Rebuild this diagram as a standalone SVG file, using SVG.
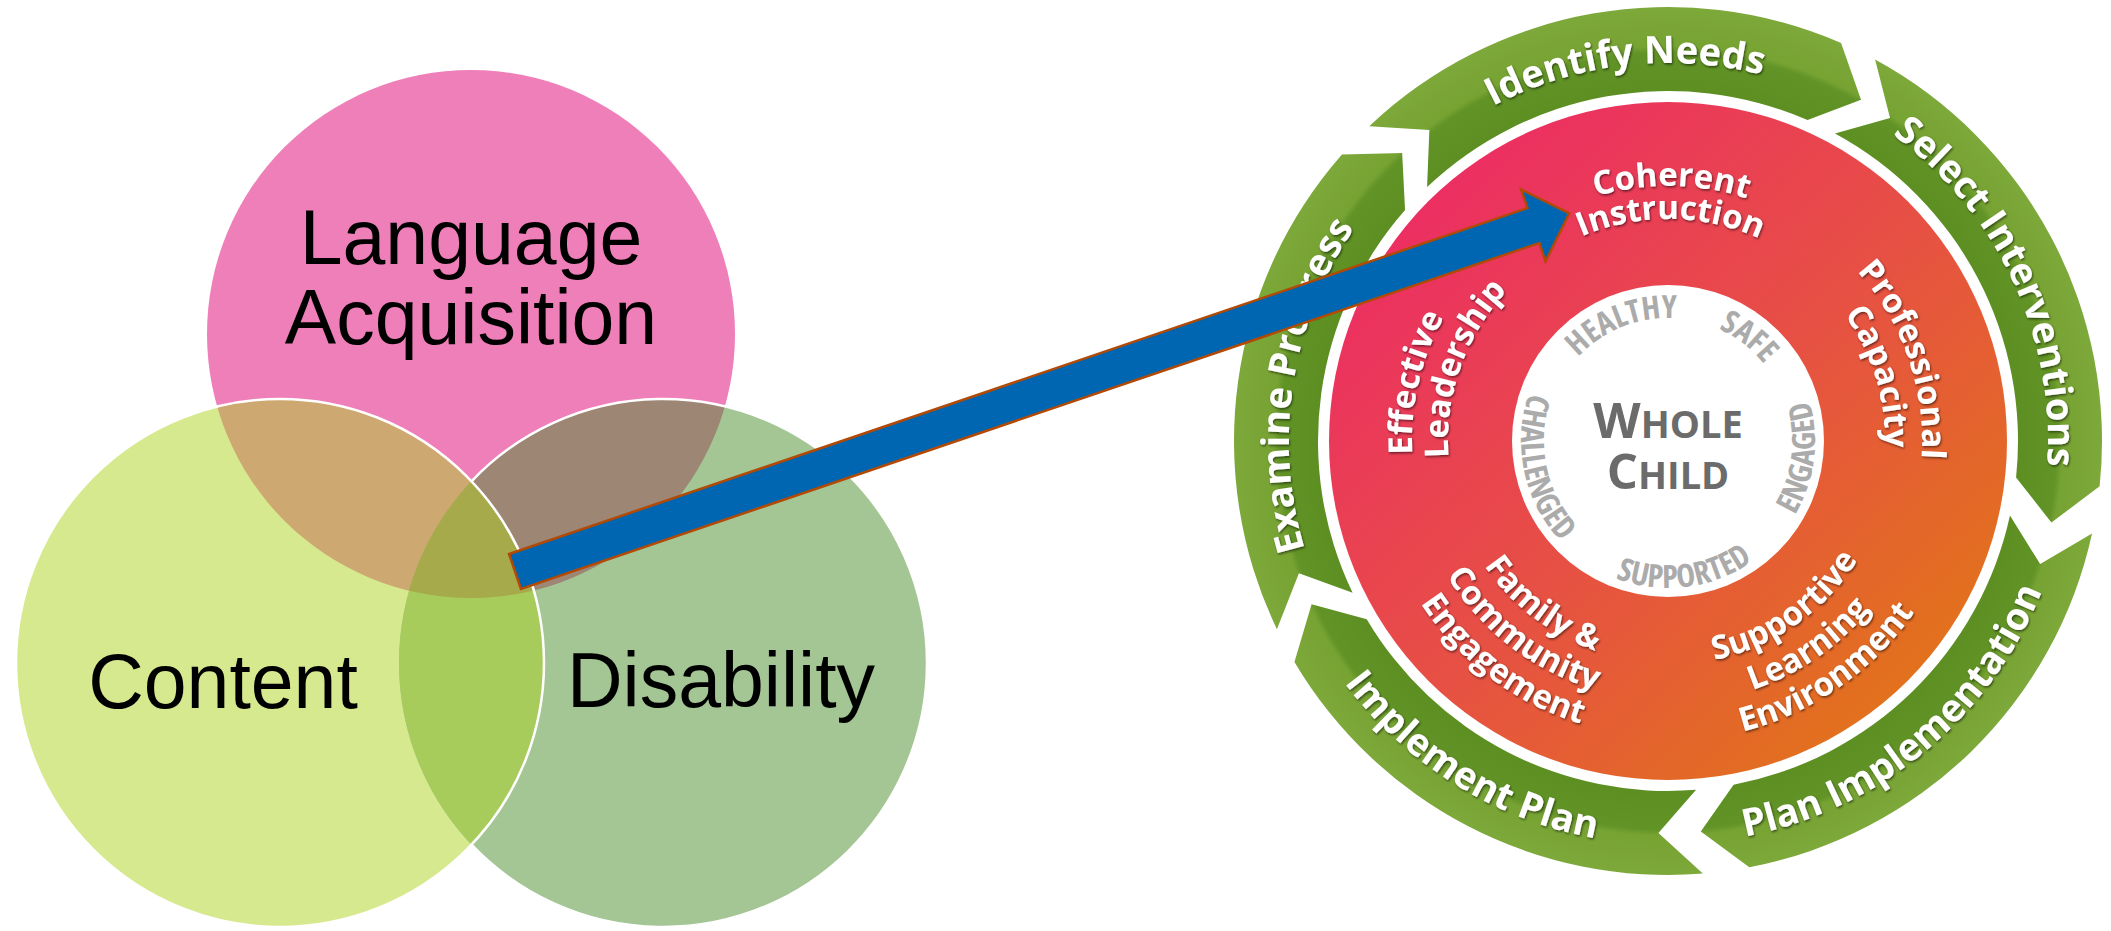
<svg xmlns="http://www.w3.org/2000/svg" width="2111" height="931" viewBox="0 0 2111 931">
<style>
.venn{font-family:"Liberation Sans",Arial,sans-serif;font-size:77px;fill:#000;text-anchor:middle}
.seg{fill:url(#gGreen)}
.glab{font-family:"Open Sans","Liberation Sans",sans-serif;font-weight:bold;font-size:38px;fill:#fff;filter:url(#ts)}
.rlab{font-family:"Open Sans","Liberation Sans",sans-serif;font-weight:bold;font-size:33px;fill:#fff;filter:url(#ts)}
.wlab{font-family:"Open Sans","Liberation Sans",sans-serif;font-weight:bold;font-size:32px;fill:#ABABAB;font-stretch:condensed}
.wc{font-family:"Open Sans","Liberation Sans",sans-serif;font-weight:bold;fill:#6B6B6B;text-anchor:middle}
</style>
<defs>
<clipPath id="clipPink"><circle cx="471" cy="334" r="264"/></clipPath>
<clipPath id="clipContent"><circle cx="280" cy="663" r="264"/></clipPath>
<linearGradient id="gRed" gradientUnits="userSpaceOnUse" x1="1430" y1="200" x2="1910" y2="690">
<stop offset="0" stop-color="#EC2F62"/><stop offset="0.5" stop-color="#E74F45"/><stop offset="1" stop-color="#E2721C"/>
</linearGradient>
<radialGradient id="gGreen" gradientUnits="userSpaceOnUse" cx="1668" cy="441" r="434">
<stop offset="0.8" stop-color="#5C8E21"/><stop offset="0.895" stop-color="#619326"/><stop offset="0.91" stop-color="#77A333"/><stop offset="1" stop-color="#7DA83A"/>
</radialGradient>
<filter id="ts" x="-20%" y="-30%" width="140%" height="160%"><feDropShadow dx="1" dy="1.5" stdDeviation="1.2" flood-color="#000" flood-opacity="0.55"/></filter>
<path id="pIdentify" d="M1290.15,451.55 A378,378 0 0 1 2038.28,364.99"/>
<path id="pSelect" d="M1538.03,83.92 A380,380 0 0 1 1858,770.09"/>
<path id="pPlanImpl" d="M1381.05,723.97 A403,403 0 0 0 1999.73,212.16"/>
<path id="pImplPlan" d="M1307.39,258.84 A404,404 0 0 0 1991.49,683.0"/>
<path id="pExamine" d="M1577.6,809.06 A379,379 0 0 1 1693.12,62.83"/>
<path id="pCoh" d="M1414.31,415.23 A255,255 0 0 1 1922.31,422.32"/>
<path id="pIns" d="M1447.10,418.95 A222,222 0 0 1 1889.38,424.35"/>
<path id="pEff" d="M1588.89,684.47 A256,256 0 0 1 1703.63,187.49"/>
<path id="pLea" d="M1577.12,641.35 A220,220 0 0 1 1722.71,227.91"/>
<path id="pPro" d="M1606.55,194.54 A254,254 0 0 1 1771.31,673.04"/>
<path id="pCap" d="M1622.88,228.74 A217,217 0 0 1 1749.29,642.20"/>
<path id="pFam" d="M1480.77,321.72 A222,222 0 0 0 1831.68,590.98"/>
<path id="pCom" d="M1449.56,301.84 A259,259 0 0 0 1858.96,615.98"/>
<path id="pEng" d="M1416.98,284.14 A296,296 0 0 0 1887.97,639.06"/>
<path id="pSup" d="M1496.41,584.98 A224,224 0 0 0 1861.99,329"/>
<path id="pLrn" d="M1465.06,608.29 A263,263 0 0 0 1896.90,311.49"/>
<path id="pEnv" d="M1437.52,633.03 A300,300 0 0 0 1928.33,291.91"/>
<path id="pHea" d="M1550.07,475.93 A123,123 0 0 1 1778.08,386.12"/>
<path id="pSaf" d="M1577.75,357.43 A123,123 0 0 1 1771.39,507.63"/>
<path id="pEnga" d="M1662.36,587.89 A147,147 0 0 0 1699.06,297.32"/>
<path id="pSupp" d="M1524.32,472.06 A147,147 0 0 0 1814.89,435.36"/>
<path id="pCha" d="M1624.78,300.5 A147,147 0 0 0 1686.17,586.87"/>
</defs>
<rect x="0" y="0" width="2111" height="931" fill="#fff"/>

<!-- Venn diagram -->
<g id="venn-language"><circle cx="471" cy="334" r="264" fill="#EF7FB9"/></g>
<g id="venn-content"><circle cx="280" cy="663" r="264" fill="#D7E98F"/></g>
<g id="venn-disability"><circle cx="663" cy="663" r="264" fill="#A4C594"/></g>
<g id="venn-overlaps">
<circle cx="280" cy="663" r="264" fill="#CDA870" clip-path="url(#clipPink)"/>
<circle cx="663" cy="663" r="264" fill="#9D8673" clip-path="url(#clipPink)"/>
<circle cx="663" cy="663" r="264" fill="#A8CC5C" clip-path="url(#clipContent)"/>
<g clip-path="url(#clipContent)"><circle cx="663" cy="663" r="264" fill="#A6AA4B" clip-path="url(#clipPink)"/></g>
<path d="M471.5,481.3 A264,264 0 1 1 471.5,844.7" fill="none" stroke="#fff" stroke-width="2.5"/>
<circle cx="280" cy="663" r="264" fill="none" stroke="#fff" stroke-width="2.5"/>
</g>
<g id="venn-labels">
<text class="venn" x="471" y="264">Language</text>
<text class="venn" x="471" y="344">Acquisition</text>
<text class="venn" x="223" y="708">Content</text>
<text class="venn" x="721" y="707">Disability</text>
</g>

<!-- Whole child wheel -->
<g id="seg-identify-needs">
<path class="seg" d="M1369.26,126.19 A434,434 0 0 1 1841.06,43.0 L1861.03,99.82 L1807.56,120.03 A350,350 0 0 0 1427.08,187.12 L1429.37,130.0 Z"/>
<text class="glab"><textPath href="#pIdentify" startOffset="50%" text-anchor="middle">Identify Needs</textPath></text>
</g>
<g id="seg-select-interventions">
<path class="seg" d="M1875.09,59.59 A434,434 0 0 1 2099.62,486.37 L2051.43,522.50 L2016.08,477.59 A350,350 0 0 0 1835.01,133.41 L1890.03,117.94 Z"/>
<text class="glab"><textPath href="#pSelect" startOffset="50%" text-anchor="middle">Select Interventions</textPath></text>
</g>
<g id="seg-plan-implementation">
<path class="seg" d="M2092.04,533.46 A434,434 0 0 1 1749.32,867.31 L1700.80,831.62 L1733.58,784.80 A350,350 0 0 0 2009.97,515.56 L2040.18,564.08 Z"/>
<text class="glab"><textPath href="#pPlanImpl" startOffset="50%" text-anchor="middle">Plan Implementation</textPath></text>
</g>
<g id="seg-implement-plan">
<path class="seg" d="M1702.81,873.60 A434,434 0 0 1 1294.44,661.92 L1311.58,604.18 L1366.74,619.16 A350,350 0 0 0 1696.07,789.87 L1658.42,832.88 Z"/>
<text class="glab"><textPath href="#pImplPlan" startOffset="50%" text-anchor="middle">Implement Plan</textPath></text>
</g>
<g id="seg-examine-progress">
<path class="seg" d="M1276.93,629.21 A434,434 0 0 1 1341.95,154.56 L1402.16,152.92 L1405.06,210.0 A350,350 0 0 0 1352.62,592.78 L1298.94,573.14 Z"/>
<text class="glab"><textPath href="#pExamine" startOffset="50%" text-anchor="middle">Examine Progress</textPath></text>
</g>

<g id="red-disc">
<circle cx="1668" cy="441" r="339" fill="url(#gRed)"/>
</g>
<g id="lab-coherent-instruction">
<text class="rlab"><textPath href="#pCoh" startOffset="50%" text-anchor="middle">Coherent</textPath></text>
<text class="rlab"><textPath href="#pIns" startOffset="50%" text-anchor="middle">Instruction</textPath></text>
</g>
<g id="lab-effective-leadership">
<text class="rlab"><textPath href="#pEff" startOffset="50%" text-anchor="middle">Effective</textPath></text>
<text class="rlab"><textPath href="#pLea" startOffset="50%" text-anchor="middle">Leadership</textPath></text>
</g>
<g id="lab-professional-capacity">
<text class="rlab"><textPath href="#pPro" startOffset="50%" text-anchor="middle">Professional</textPath></text>
<text class="rlab"><textPath href="#pCap" startOffset="50%" text-anchor="middle">Capacity</textPath></text>
</g>
<g id="lab-family-community">
<text class="rlab"><textPath href="#pFam" startOffset="50%" text-anchor="middle">Family &amp;</textPath></text>
<text class="rlab"><textPath href="#pCom" startOffset="50%" text-anchor="middle">Community</textPath></text>
<text class="rlab"><textPath href="#pEng" startOffset="50%" text-anchor="middle">Engagement</textPath></text>
</g>
<g id="lab-supportive-learning">
<text class="rlab"><textPath href="#pSup" startOffset="50%" text-anchor="middle">Supportive</textPath></text>
<text class="rlab"><textPath href="#pLrn" startOffset="50%" text-anchor="middle">Learning</textPath></text>
<text class="rlab"><textPath href="#pEnv" startOffset="50%" text-anchor="middle">Environment</textPath></text>
</g>

<g id="whole-child">
<circle cx="1668" cy="441" r="156" fill="#fff"/>
<text class="wc" x="1668" y="438"><tspan font-size="49">W</tspan><tspan font-size="38">HOLE</tspan></text>
<text class="wc" x="1668" y="489"><tspan font-size="49">C</tspan><tspan font-size="38">HILD</tspan></text>
<text class="wlab"><textPath href="#pHea" startOffset="50%" text-anchor="middle">HEALTHY</textPath></text>
<text class="wlab"><textPath href="#pSaf" startOffset="50%" text-anchor="middle">SAFE</textPath></text>
<text class="wlab"><textPath href="#pEnga" startOffset="50%" text-anchor="middle">ENGAGED</textPath></text>
<text class="wlab"><textPath href="#pSupp" startOffset="50%" text-anchor="middle">SUPPORTED</textPath></text>
<text class="wlab"><textPath href="#pCha" startOffset="50%" text-anchor="middle">CHALLENGED</textPath></text>
</g>

<!-- connector -->
<g id="connectors">
<polygon points="509.05,554.0 1527.4,208.0 1521.1,189.5 1569.3,213.3 1545.5,261.5 1539.3,243.0 520.95,589.0" fill="#0166B1" stroke="#B24A06" stroke-width="2.5" stroke-linejoin="miter"/>
</g>
</svg>
